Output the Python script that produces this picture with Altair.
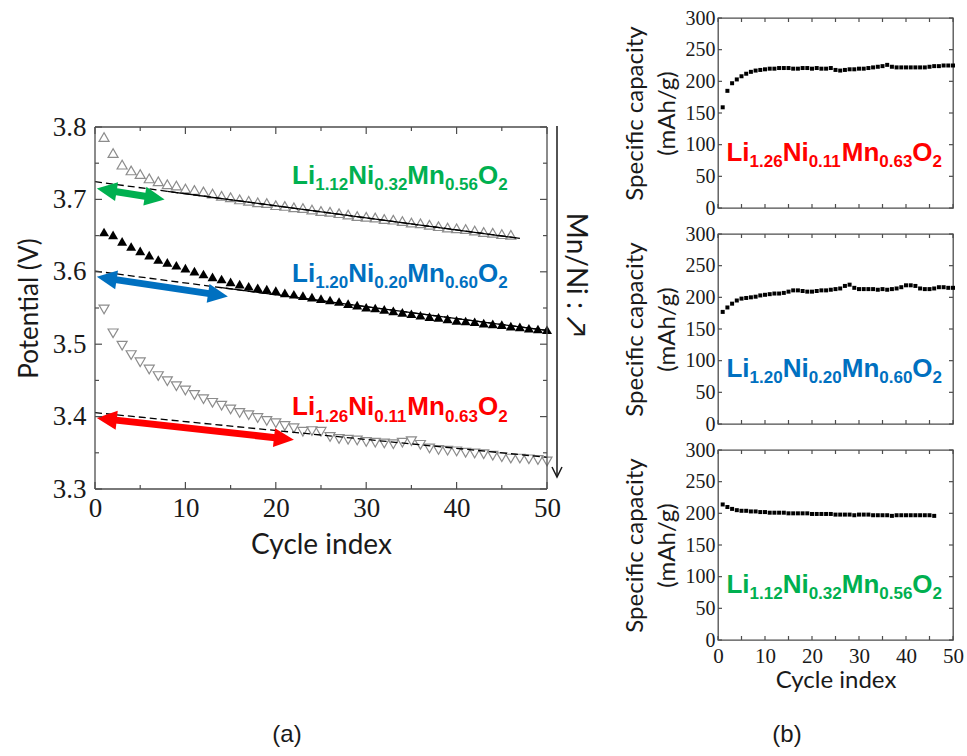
import math

import altair as alt
import pandas as pd

# ---------------- (a) average discharge potential vs cycle ----------------
cycle_a = list(range(1, 51))
pot_li112 = [3.786, 3.764, 3.748, 3.740, 3.735, 3.729, 3.725, 3.721, 3.719, 3.715,
             3.713, 3.711, 3.708, 3.705, 3.703, 3.700, 3.698, 3.696, 3.695, 3.692,
             3.691, 3.689, 3.688, 3.686, 3.684, 3.683, 3.681, 3.679, 3.677, 3.676,
             3.675, 3.673, 3.672, 3.670, 3.668, 3.667, 3.665, 3.663, 3.661, 3.660,
             3.659, 3.657, 3.655, 3.654, 3.652, 3.651]
pot_li120 = [3.655, 3.651, 3.642, 3.635, 3.629, 3.623, 3.617, 3.613, 3.609, 3.605,
             3.601, 3.597, 3.593, 3.590, 3.586, 3.583, 3.580, 3.578, 3.576, 3.574,
             3.571, 3.569, 3.567, 3.565, 3.563, 3.561, 3.559, 3.556, 3.554, 3.551,
             3.550, 3.548, 3.546, 3.544, 3.542, 3.540, 3.538, 3.537, 3.535, 3.533,
             3.532, 3.531, 3.529, 3.528, 3.527, 3.525, 3.524, 3.522, 3.521, 3.520]
pot_li126 = [3.548, 3.515, 3.498, 3.485, 3.475, 3.465, 3.456, 3.449, 3.442, 3.436,
             3.430, 3.424, 3.419, 3.415, 3.410, 3.405, 3.402, 3.398, 3.394, 3.391,
             3.387, 3.384, 3.379, 3.380, 3.379, 3.372, 3.369, 3.368, 3.367, 3.365,
             3.364, 3.363, 3.362, 3.364, 3.366, 3.361, 3.356, 3.354, 3.353, 3.352,
             3.350, 3.349, 3.348, 3.346, 3.344, 3.342, 3.342, 3.341, 3.340, 3.338]

# linear fits: (start cycle, start V, end cycle, end V, cycle where the solid part begins)
fit_series = ["Li1.12", "Li1.20", "Li1.26"]
fit_c0 = [0, 0, 0]
fit_v0 = [3.7245, 3.601, 3.4054]
fit_c1 = [47, 50, 50]
fit_v1 = [3.6462, 3.519, 3.3438]
fit_solid_from = [8, 14, None]

# double-headed arrows marking the initial potential drop
arrow_x1 = [0.2, 0.2, 0.2]
arrow_y1 = [3.715, 3.593, 3.398]
arrow_x2 = [7.7, 14.7, 22.0]
arrow_y2 = [3.700, 3.566, 3.368]

# ---------------- (b) specific capacity vs cycle ----------------
cycle_b = list(range(1, 51))
cap_li126 = [159, 185, 197, 203, 208, 212, 215, 217, 218, 219,
             220, 220, 221, 221, 221, 220, 220, 221, 221, 220,
             221, 220, 220, 221, 218, 217, 218, 219, 219, 220,
             220, 221, 222, 223, 224, 226, 223, 222, 222, 222,
             222, 222, 222, 222, 223, 224, 224, 225, 225, 225]
cap_li120 = [177, 184, 190, 195, 198, 199, 200, 201, 203, 204,
             205, 206, 206, 207, 209, 211, 211, 210, 209, 209,
             210, 211, 211, 212, 213, 214, 218, 220, 215, 213,
             213, 213, 213, 212, 213, 212, 213, 214, 216, 219,
             219, 218, 214, 213, 213, 214, 216, 216, 215, 215]
cap_li112 = [214, 210, 207, 205, 204, 204, 203, 203, 202, 202,
             201, 201, 201, 201, 200, 200, 200, 200, 200, 199,
             199, 199, 199, 199, 198, 198, 198, 198, 197, 198,
             198, 198, 197, 197, 197, 197, 196, 197, 197, 197,
             197, 197, 197, 197, 197, 196]

# compositions Li_a Ni_b Mn_c O2
comp_li = ["1.12", "1.20", "1.26"]
comp_ni = ["0.32", "0.20", "0.11"]
comp_mn = ["0.56", "0.60", "0.63"]
comp_color = ["#00B050", "#0070C0", "#FF0000"]
label_a_x = [21.8, 21.8, 21.8]
label_a_y = [3.7213, 3.5863, 3.4022]
label_b_x = 1.8
label_b_y = 75

x_ticks_major = [0, 10, 20, 30, 40, 50]
x_ticks_minor = [5, 15, 25, 35, 45]
y_a_major = [3.3, 3.4, 3.5, 3.6, 3.7, 3.8]
y_a_minor = [3.35, 3.45, 3.55, 3.65, 3.75]
y_b_major = [0, 50, 100, 150, 200, 250, 300]

# ---------------- styling ----------------
W_A, H_A = 452, 362          # frame of panel (a)
TOP_A = 109                  # panel (a) frame starts this far below panel (b)
FULL_A = TOP_A + H_A
W_B, H_B = 235, 190
SERIF = "Liberation Serif"
SANS = "Lato"
FORMULA_FONT = "Liberation Sans"
FRAME = "#4d4d4d"
INK = "#1a1a1a"
MAIN, SUB, SUB_DROP = 26, 17, 6.5

x_a = alt.Scale(domain=[0, 50], nice=False)
y_a = alt.Scale(domain=[3.3, 3.8], range=[FULL_A, TOP_A], nice=False)
x_b = alt.Scale(domain=[0, 50], nice=False)
y_b = alt.Scale(domain=[0, 300], nice=False)

ONE = pd.DataFrame({"k": [0]})

# Liberation Sans Bold advance widths (em) for the formula glyphs
ADV = {"L": 0.611, "i": 0.278, "N": 0.722, "M": 0.833, "n": 0.611, "O": 0.778, ".": 0.278}


def adv(s, size):
    return size * sum(ADV.get(ch, 0.556) for ch in s)


def axis(title, values, fmt, label_size, title_size, label_pad, title_pad, **kw):
    return alt.Axis(values=values, format=fmt, title=title,
                    labelFont=SERIF, labelFontSize=label_size, labelColor=INK,
                    labelPadding=label_pad, labelFlush=False, labelOverlap=False,
                    ticks=False, domain=False, grid=False,
                    titleFont=SANS, titleFontSize=title_size, titleFontWeight="normal",
                    titleColor=INK, titlePadding=title_pad, **kw)


ax_x_a = axis("Cycle index", x_ticks_major, "d", 27, 28, 6, 10)
ax_y_a = axis("Potential (V)", y_a_major, ".1f", 27, 26, 9, 10)
ax_x_b = axis("Cycle index", x_ticks_major, "d", 21, 24, 5, 2)
ax_y_b = axis(["Specific capacity", "(mAh/g)"], y_b_major, "d", 20, 24, 3, 6,
              titleLineHeight=32)


def enc_a(xf, yf):
    return dict(x=alt.X(xf, scale=x_a, axis=ax_x_a), y=alt.Y(yf, scale=y_a, axis=ax_y_a))


def frame_ticks(values, channel, scale, axis_def, top, bottom, w, length):
    df = pd.DataFrame({"t": values})
    rule = alt.Chart(df).mark_rule(color=FRAME, strokeWidth=1.2)
    if channel == "x":
        enc = alt.X("t:Q", scale=scale, axis=axis_def)
        return [rule.encode(x=enc, y=alt.value(bottom), y2=alt.value(bottom - length)),
                rule.encode(x=enc, y=alt.value(top), y2=alt.value(top + length))]
    enc = alt.Y("t:Q", scale=scale, axis=axis_def)
    return [rule.encode(y=enc, x=alt.value(0), x2=alt.value(length)),
            rule.encode(y=enc, x=alt.value(w), x2=alt.value(w - length))]


def formula_layers(df, x_enc, y_enc):
    """Chemical formula drawn piece by piece so the stoichiometry sits as subscripts."""
    pieces = [("Li", False), ("li", True), ("Ni", False), ("ni", True),
              ("Mn", False), ("mn", True), ("O", False), ("2", True)]
    layers = []
    offset = 0.0
    for key, is_sub in pieces:
        size = SUB if is_sub else MAIN
        d = df.copy()
        d["txt"] = d[key] if key in d.columns else key
        layers.append(
            alt.Chart(d).mark_text(
                align="left", baseline="alphabetic", dx=offset,
                dy=SUB_DROP if is_sub else 0, fontSize=size,
                font=FORMULA_FONT, fontWeight="bold",
            ).encode(
                x=x_enc, y=y_enc, text="txt:N",
                color=alt.Color("col:N", scale=None),
            )
        )
        offset += adv(str(d["txt"].iloc[0]), size)
    return layers


# ---------------- panel (a) ----------------
df112 = pd.DataFrame({"cycle": cycle_a[:len(pot_li112)], "v": pot_li112})
df120 = pd.DataFrame({"cycle": cycle_a, "v": pot_li120})
df126 = pd.DataFrame({"cycle": cycle_a, "v": pot_li126})

pts112 = alt.Chart(df112).mark_point(
    shape="triangle-up", filled=False, size=100, color="#8c8c8c", strokeWidth=1.2, opacity=1
).encode(**enc_a("cycle:Q", "v:Q"))
pts120 = alt.Chart(df120).mark_point(
    shape="triangle-up", filled=True, size=100, color="black", opacity=1
).encode(**enc_a("cycle:Q", "v:Q"))
pts126 = alt.Chart(df126).mark_point(
    shape="triangle-down", filled=False, size=100, color="#8c8c8c", strokeWidth=1.2, opacity=1
).encode(**enc_a("cycle:Q", "v:Q"))

fit_rows, solid_rows = [], []
for s, c0, v0, c1, v1, cs in zip(fit_series, fit_c0, fit_v0, fit_c1, fit_v1, fit_solid_from):
    fit_rows += [{"s": s, "c": c0, "v": v0}, {"s": s, "c": c1, "v": v1}]
    if cs is not None:
        vs = v0 + (v1 - v0) * (cs - c0) / (c1 - c0)
        solid_rows += [{"s": s, "c": cs, "v": vs}, {"s": s, "c": c1, "v": v1}]
fit_dash = alt.Chart(pd.DataFrame(fit_rows)).mark_line(
    color="black", strokeWidth=1.3, strokeDash=[7, 4]
).encode(detail="s:N", **enc_a("c:Q", "v:Q"))
fit_solid = alt.Chart(pd.DataFrame(solid_rows)).mark_line(
    color="black", strokeWidth=1.2
).encode(detail="s:N", **enc_a("c:Q", "v:Q"))

# arrow geometry: shafts are inset so the heads cover their ends
px_c = W_A / 50.0
px_v = H_A / 0.5
shaft_rows, head_rows = [], []
for x1, y1, x2, y2, col in zip(arrow_x1, arrow_y1, arrow_x2, arrow_y2, comp_color):
    ang = math.atan2((y1 - y2) * px_v, (x2 - x1) * px_c)
    inset = 12.0
    dc = inset * math.cos(ang) / px_c
    dv = inset * math.sin(ang) / px_v
    shaft_rows.append({"x": x1 + dc, "y": y1 - dv, "x2": x2 - dc, "y2": y2 + dv, "col": col})
    head_rows.append({"x": x1, "y": y1, "x2": x2, "y2": y2, "col": col,
                      "ang": math.degrees(ang)})
shaft_df = pd.DataFrame(shaft_rows)
head_df = pd.DataFrame(head_rows)
shafts = alt.Chart(shaft_df).mark_rule(strokeWidth=7, strokeCap="butt").encode(
    x2="x2:Q", y2="y2:Q", color=alt.Color("col:N", scale=None), **enc_a("x:Q", "y:Q"))
head_r = alt.Chart(head_df).mark_point(
    shape="M0,0L-2,-0.95L-2,0.95Z", filled=True, size=400, opacity=1, strokeWidth=0
).encode(color=alt.Color("col:N", scale=None), angle=alt.Angle("ang:Q", scale=None),
         **enc_a("x2:Q", "y2:Q"))
head_l = alt.Chart(head_df).mark_point(
    shape="M0,0L2,-0.95L2,0.95Z", filled=True, size=400, opacity=1, strokeWidth=0
).encode(color=alt.Color("col:N", scale=None), angle=alt.Angle("ang:Q", scale=None),
         **enc_a("x:Q", "y:Q"))

# frame of panel (a), drawn on the data extent
frame_df = pd.DataFrame({"x": [0, 0, 0, 50], "x2": [50, 50, 0, 50],
                         "y": [3.3, 3.8, 3.3, 3.3], "y2": [3.3, 3.8, 3.8, 3.8]})
frame_a = alt.Chart(frame_df).mark_rule(color=FRAME, strokeWidth=1.3).encode(
    x2="x2:Q", y2="y2:Q", **enc_a("x:Q", "y:Q"))

labels_a = pd.DataFrame({"x": label_a_x, "y": label_a_y, "li": comp_li, "ni": comp_ni,
                         "mn": comp_mn, "col": comp_color})

# Mn/Ni trend arrow on the right of panel (a)
trend_line = alt.Chart(ONE).mark_rule(color=INK, strokeWidth=1.5).encode(
    x=alt.value(W_A + 10), y=alt.value(TOP_A - 1), y2=alt.value(FULL_A - 12))
trend_head = alt.Chart(ONE).mark_point(
    shape="M-1,-2L0,0L1,-2", filled=False, size=100, color=INK, strokeWidth=1.5, opacity=1
).encode(x=alt.value(W_A + 10), y=alt.value(FULL_A - 12))
trend_text = alt.Chart(ONE).mark_text(
    text="Mn/Ni : ↗", angle=90, font=SANS, fontSize=28, color=INK
).encode(x=alt.value(W_A + 28), y=alt.value(TOP_A + 148))
tag_a = alt.Chart(ONE).mark_text(
    text="(a)", font="Liberation Sans", fontSize=24, color=INK
).encode(x=alt.value(192), y=alt.value(TOP_A + 608))
# invisible point that pins the page origin
anchor = alt.Chart(ONE).mark_rule(strokeOpacity=0, strokeWidth=1).encode(
    x=alt.value(-95), x2=alt.value(-95), y=alt.value(-18), y2=alt.value(-18))

panel_a = alt.layer(
    pts112, pts120, pts126, fit_dash, fit_solid, shafts, head_r, head_l, frame_a,
    *formula_layers(labels_a, alt.X("x:Q", scale=x_a, axis=ax_x_a),
                    alt.Y("y:Q", scale=y_a, axis=ax_y_a)),
    *frame_ticks(x_ticks_major, "x", x_a, ax_x_a, TOP_A, FULL_A, W_A, 7),
    *frame_ticks(x_ticks_minor, "x", x_a, ax_x_a, TOP_A, FULL_A, W_A, 4),
    *frame_ticks(y_a_major, "y", y_a, ax_y_a, TOP_A, FULL_A, W_A, 7),
    *frame_ticks(y_a_minor, "y", y_a, ax_y_a, TOP_A, FULL_A, W_A, 4),
    trend_line, trend_head, trend_text, tag_a, anchor,
).properties(width=W_A, height=FULL_A, view=alt.ViewBackground(strokeOpacity=0))


# ---------------- panel (b) ----------------
def capacity_panel(values, idx, show_x):
    df = pd.DataFrame({"cycle": cycle_b[:len(values)], "cap": values})
    ax_x = ax_x_b if show_x else None
    x_enc = alt.X("x:Q", scale=x_b, axis=ax_x)
    y_enc = alt.Y("y:Q", scale=y_b, axis=ax_y_b)
    pts = alt.Chart(df).mark_square(size=16, color="black", opacity=1).encode(
        x=alt.X("cycle:Q", scale=x_b, axis=ax_x), y=alt.Y("cap:Q", scale=y_b, axis=ax_y_b))
    lab = pd.DataFrame({"x": [label_b_x], "y": [label_b_y], "li": [comp_li[idx]],
                        "ni": [comp_ni[idx]], "mn": [comp_mn[idx]], "col": [comp_color[idx]]})
    layers = [pts, *formula_layers(lab, x_enc, y_enc),
              *frame_ticks(x_ticks_major + x_ticks_minor, "x", x_b, ax_x, 0, H_B, W_B, 4),
              *frame_ticks(y_b_major, "y", y_b, ax_y_b, 0, H_B, W_B, 4)]
    if show_x:
        layers.append(alt.Chart(ONE).mark_text(
            text="(b)", font="Liberation Sans", fontSize=24, color=INK
        ).encode(x=alt.value(69), y=alt.value(285)))
    return alt.layer(*layers).properties(width=W_B, height=H_B)


panel_b = alt.vconcat(
    capacity_panel(cap_li126, 2, False),
    capacity_panel(cap_li120, 1, False),
    capacity_panel(cap_li112, 0, True),
    spacing=26, bounds="flush",
)

chart = alt.hconcat(
    panel_a, panel_b, spacing=171, bounds="flush",
).properties(padding=0, background="white").configure_view(stroke=FRAME, strokeWidth=1.3)

chart.save("out.html", embed_options={"renderer": "svg", "actions": False})
